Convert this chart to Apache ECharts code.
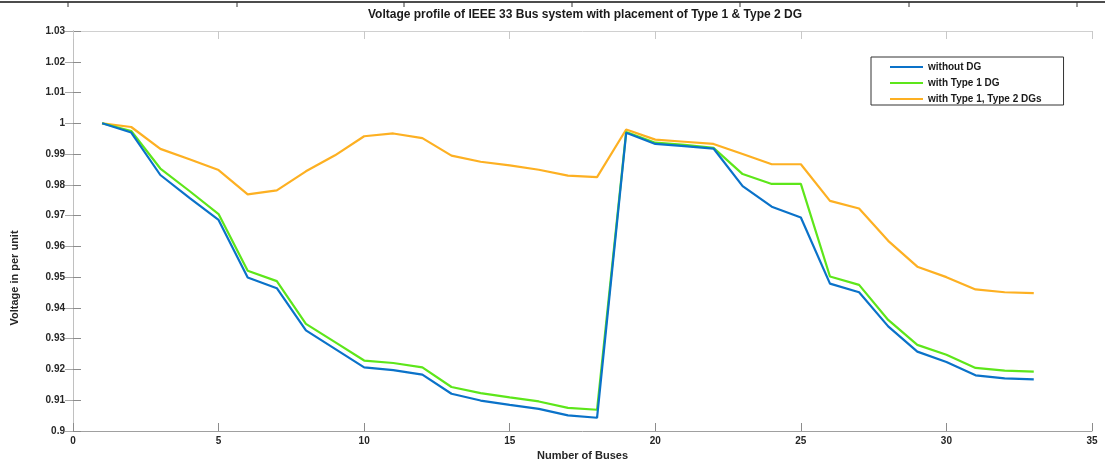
<!DOCTYPE html>
<html>
<head>
<meta charset="utf-8">
<script src="https://cdn.jsdelivr.net/npm/echarts@6/dist/echarts.min.js"></script>
<style>
  html, body { margin: 0; padding: 0; background: #fff; width: 100%; height: 100%; overflow: hidden; }
  #chart { position: absolute; left: 0; top: 0; width: 1105px; height: 461px; }
</style>
</head>
<body>
<div id="chart"></div>
<script>
// Bus numbers 1..33 of the IEEE 33 bus feeder
const buses = [1,2,3,4,5,6,7,8,9,10,11,12,13,14,15,16,17,18,19,20,21,22,23,24,25,26,27,28,29,30,31,32,33];

// Bus voltages (p.u.)
const withoutDG = [1.0000,0.9970,0.9832,0.9758,0.9686,0.9499,0.9464,0.9327,0.9267,0.9207,
                   0.9198,0.9183,0.9121,0.9099,0.9085,0.9072,0.9051,0.9043,0.9969,0.9933,
                   0.9926,0.9918,0.9796,0.9729,0.9694,0.9479,0.9451,0.9340,0.9258,0.9224,
                   0.9181,0.9171,0.9168];
const withType1 = [1.0000,0.9975,0.9853,0.9780,0.9705,0.9521,0.9487,0.9348,0.9289,0.9229,
                   0.9221,0.9207,0.9143,0.9123,0.9109,0.9096,0.9075,0.9069,0.9972,0.9937,
                   0.9930,0.9920,0.9835,0.9803,0.9803,0.9502,0.9475,0.9361,0.9280,0.9248,
                   0.9205,0.9196,0.9193];
const withType1Type2 = [1.0000,0.9988,0.9917,0.9883,0.9848,0.9769,0.9782,0.9844,0.9896,0.9958,
                        0.9967,0.9952,0.9895,0.9875,0.9863,0.9849,0.9830,0.9825,0.9980,0.9947,
                        0.9940,0.9933,0.9900,0.9867,0.9867,0.9748,0.9723,0.9618,0.9534,0.9500,
                        0.9460,0.9451,0.9448];

const seriesNames = ['without DG', 'with Type 1 DG', 'with Type 1, Type 2 DGs'];
const seriesColors = ['#0a72c9', '#5de61a', '#fdb022'];
const seriesValues = [withoutDG, withType1, withType1Type2];

const FONT = '"Liberation Sans", Arial, sans-serif';
const TICK_TEXT = '#262626';

const chart = echarts.init(document.getElementById('chart'), null, { renderer: 'canvas' });

function fmtY(v) {
  return String(parseFloat(v.toFixed(2)));
}

const axisCommon = {
  axisLine: { show: true, lineStyle: { color: '#a0a0a0', width: 1 } },
  axisTick: { show: true, inside: true, length: 8, lineStyle: { color: '#8c8c8c', width: 1 } },
  splitLine: { show: false }
};

chart.setOption({
  animation: false,
  backgroundColor: '#ffffff',
  title: {
    text: 'Voltage profile of IEEE 33 Bus system with placement of Type 1 & Type 2 DG',
    left: 580,
    textAlign: 'center',
    top: 4,
    textStyle: { fontFamily: FONT, fontSize: 12, fontWeight: 'bold', color: '#1a1a1a' }
  },
  legend: {
    data: seriesNames,
    orient: 'vertical',
    left: 871,
    top: 57,
    padding: [5, 22, 1, 19],
    itemGap: 6,
    itemWidth: 33,
    itemHeight: 12,
    icon: 'path://M0,5 L33,5 L33,7 L0,7 Z',
    borderColor: '#333',
    borderWidth: 1,
    backgroundColor: '#fff',
    textStyle: { fontFamily: FONT, fontSize: 10, fontWeight: 'bold', color: '#1a1a1a' }
  },
  // fixed plot box; labels and names are placed outside it as-is
  grid: { left: 73, top: 31, width: 1019, height: 400, containLabel: false, outerBoundsMode: 'none' },
  xAxis: [
    Object.assign({}, axisCommon, {
      type: 'value', min: 0, max: 35, interval: 5,
      name: 'Number of Buses',
      nameLocation: 'middle',
      nameGap: 18,
      nameTextStyle: { fontFamily: FONT, fontSize: 11, fontWeight: 'bold', color: '#262626' },
      axisLabel: { fontFamily: FONT, fontSize: 10, fontWeight: 'bold', color: TICK_TEXT, margin: 5 }
    }),
    Object.assign({}, axisCommon, {
      type: 'value', min: 0, max: 35, interval: 5, position: 'top',
      axisLine: { show: true, lineStyle: { color: '#d0d0d0', width: 1 } },
      axisTick: { show: true, inside: true, length: 8, lineStyle: { color: '#c8c8c8', width: 1 } },
      axisLabel: { show: false }
    })
  ],
  yAxis: [
    Object.assign({}, axisCommon, {
      type: 'value', min: 0.9, max: 1.03, interval: 0.01,
      axisLabel: { fontFamily: FONT, fontSize: 10, fontWeight: 'bold', color: TICK_TEXT, margin: 8, formatter: fmtY }
    }),
    Object.assign({}, axisCommon, {
      type: 'value', min: 0.9, max: 1.03, interval: 0.01, position: 'right',
      axisLine: { show: true, lineStyle: { color: '#c0c0c0', width: 1 } },
      axisTick: { show: true, inside: true, length: 8, lineStyle: { color: '#a8a8a8', width: 1 } },
      axisLabel: { show: false }
    })
  ],
  series: seriesNames.map((name, i) => ({
    name: name,
    type: 'line',
    xAxisIndex: 0,
    yAxisIndex: 0,
    data: buses.map((b, k) => [b, seriesValues[i][k]]),
    showSymbol: false,
    symbol: 'none',
    color: seriesColors[i],
    lineStyle: { color: seriesColors[i], width: 2.2 },
    z: 3 - i
  })),
  graphic: [
    {
      // y-axis title
      type: 'text',
      x: 15,
      y: 278,
      rotation: Math.PI / 2,
      style: {
        text: 'Voltage in per unit',
        font: 'bold 11px ' + FONT,
        fill: '#262626',
        textAlign: 'center',
        textVerticalAlign: 'middle'
      },
      silent: true
    },
    {
      type: 'line',
      shape: { x1: 0, y1: 2, x2: 1105, y2: 2 },
      style: { stroke: '#111', lineWidth: 1.5 },
      silent: true
    }
  ].concat([68, 237, 404, 572, 740, 909, 1077].map(x => ({
    type: 'line',
    shape: { x1: x, y1: 2, x2: x, y2: 7 },
    style: { stroke: '#333', lineWidth: 1 },
    silent: true
  })))
});
</script>
</body>
</html>
